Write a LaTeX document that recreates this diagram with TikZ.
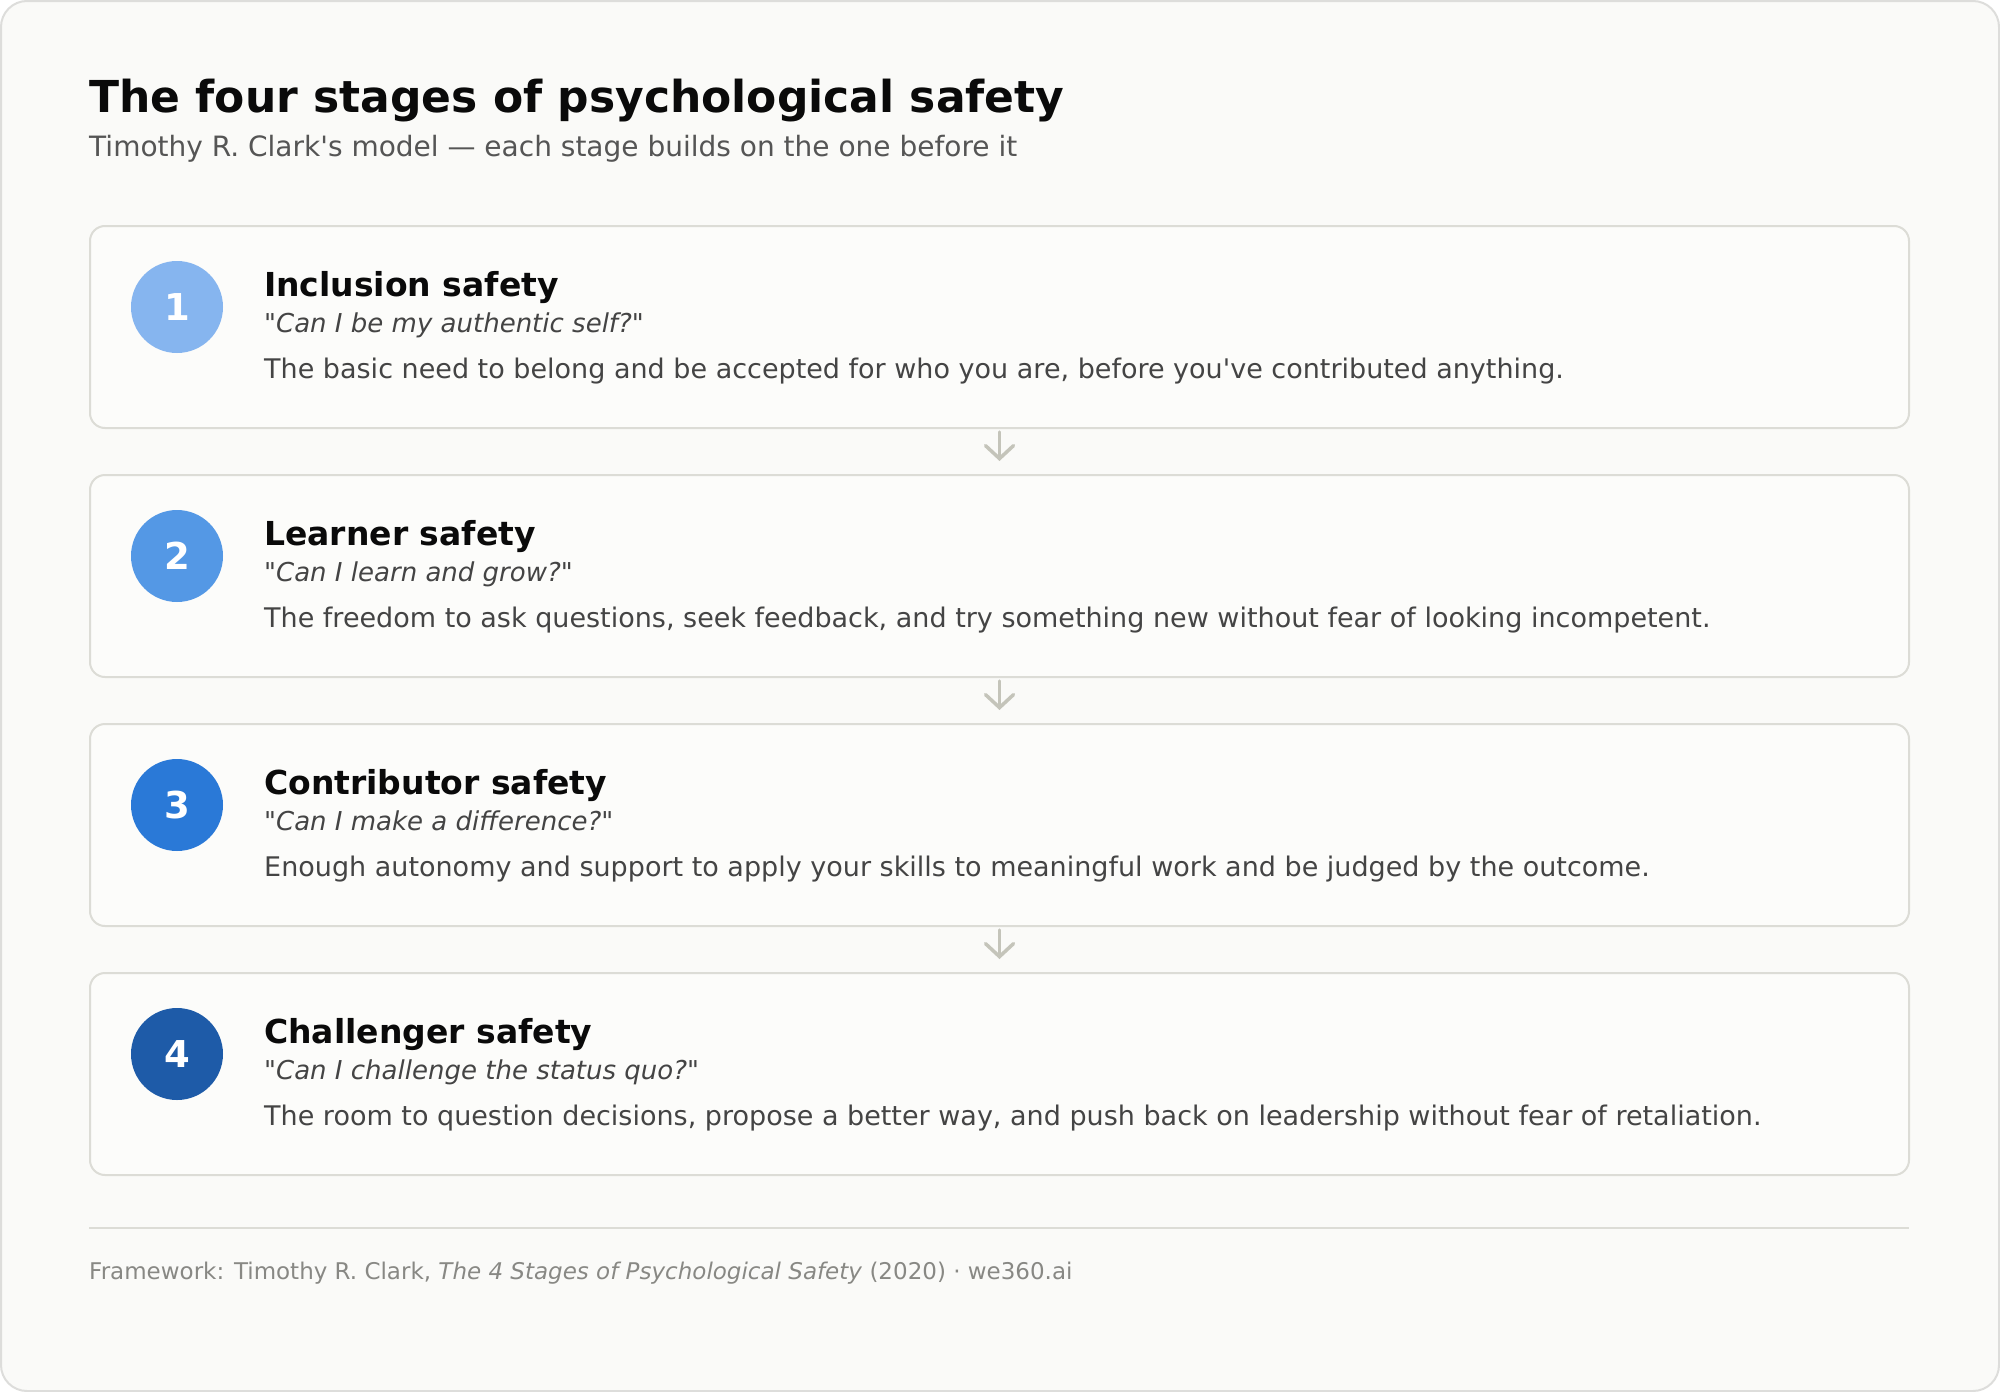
\documentclass[tikz,border=0pt]{standalone}
\usepackage{fontspec}
\setmainfont{DejaVu Sans}[Ligatures=TeXOff]
\usetikzlibrary{arrows.meta}
\usetikzlibrary{positioning}
\definecolor{cardbg}{HTML}{FAFAF8}
\definecolor{cardline}{HTML}{DDDDDB}
\definecolor{boxbg}{HTML}{FCFCFA}
\definecolor{boxline}{HTML}{DCDCD6}
\definecolor{flowgray}{HTML}{C4C4BA}
\definecolor{stageA}{HTML}{86B5EF}
\definecolor{stageB}{HTML}{5498E5}
\definecolor{stageC}{HTML}{2A79D7}
\definecolor{stageD}{HTML}{1E5BA8}
\definecolor{inkdark}{HTML}{0A0A0A}
\definecolor{inkmid}{HTML}{444444}
\definecolor{inksub}{HTML}{555555}
\definecolor{inklight}{HTML}{888884}

\begin{document}
\begin{tikzpicture}[x=1pt,y=-1pt]
		\tikzset{stage/.style={draw=boxline,fill=boxbg,line width=2pt,rounded corners=15pt,minimum width=1819pt,minimum height=202pt,inner sep=0pt}}
		\tikzset{badge/.style={circle,minimum size=92pt,inner sep=0pt,text=white,font=\fontsize{37}{40}\selectfont\bfseries}}
		\tikzset{heading/.style={anchor=base west,inner sep=0pt,text=inkdark,font=\fontsize{33}{38}\selectfont\bfseries}}
		\tikzset{question/.style={anchor=base west,inner sep=0pt,text=inkmid,font=\fontsize{26}{30}\selectfont}}
		\tikzset{blurb/.style={anchor=base west,inner sep=0pt,text=inkmid,font=\fontsize{27}{32}\selectfont}}
		\tikzset{flow/.style={draw=flowgray,line width=3.5pt,line cap=round,shorten <=3pt,shorten >=13pt,-{Straight Barb[length=13pt,width=28pt,line cap=round]}}}
		\fill[white] (0,0) rectangle (2000,1392);
		\useasboundingbox (0,0) rectangle (2000,1392);
		\draw[fill=cardbg,draw=cardline,line width=2pt,rounded corners=26pt] (1,1) rectangle (1999,1391);
		\node[anchor=base west,inner sep=0pt,text=inkdark,font=\fontsize{44}{52}\selectfont\bfseries] (title) at (89,112) {The four stages of psychological safety};
		\node[anchor=base west,inner sep=0pt,text=inksub,font=\fontsize{28}{34}\selectfont] (subtitle) at (89,156) {Timothy R. Clark's model — each stage builds on the one before it};
		\node[stage] (incl) at (999.5,327) {};
		\node[badge,fill=stageA] (inclnum) at (177,307) {1};
		\node[heading] (inclhead) at (264,296) {Inclusion safety};
		\node[question] (inclq) at (264,332) {"\textit{Can I be my authentic self?}"};
		\node[blurb] (incltext) at (264,378) {The basic need to belong and be accepted for who you are, before you've contributed anything.};
		\node[stage] (learn) at (999.5,576) {};
		\node[badge,fill=stageB] (learnnum) at (177,556) {2};
		\node[heading] (learnhead) at (264,545) {Learner safety};
		\node[question] (learnq) at (264,581) {"\textit{Can I learn and grow?}"};
		\node[blurb] (learntext) at (264,627) {The freedom to ask questions, seek feedback, and try something new without fear of looking incompetent.};
		\node[stage] (contrib) at (999.5,825) {};
		\node[badge,fill=stageC] (contribnum) at (177,805) {3};
		\node[heading] (contribhead) at (264,794) {Contributor safety};
		\node[question] (contribq) at (264,830) {"\textit{Can I make a difference?}"};
		\node[blurb] (contribtext) at (264,876) {Enough autonomy and support to apply your skills to meaningful work and be judged by the outcome.};
		\node[stage] (chall) at (999.5,1074) {};
		\node[badge,fill=stageD] (challnum) at (177,1054) {4};
		\node[heading] (challhead) at (264,1043) {Challenger safety};
		\node[question] (challq) at (264,1079) {"\textit{Can I challenge the status quo?}"};
		\node[blurb] (challtext) at (264,1125) {The room to question decisions, propose a better way, and push back on leadership without fear of retaliation.};
		\draw[flow] (incl.south) -- (learn.north);
		\draw[flow] (learn.south) -- (contrib.north);
		\draw[flow] (contrib.south) -- (chall.north);
		\coordinate (ruleL) at (89,1228);
		\coordinate (ruleR) at (1909,1228);
		\draw[boxline,line width=2pt] (ruleL) -- (ruleR);
		\node[anchor=base west,inner sep=0pt,text=inklight,font=\fontsize{23}{27}\selectfont] (source) at (89,1279) {Framework: Timothy R. Clark, \textit{The 4 Stages of Psychological Safety} (2020) · we360.ai};
\end{tikzpicture}
\end{document}
